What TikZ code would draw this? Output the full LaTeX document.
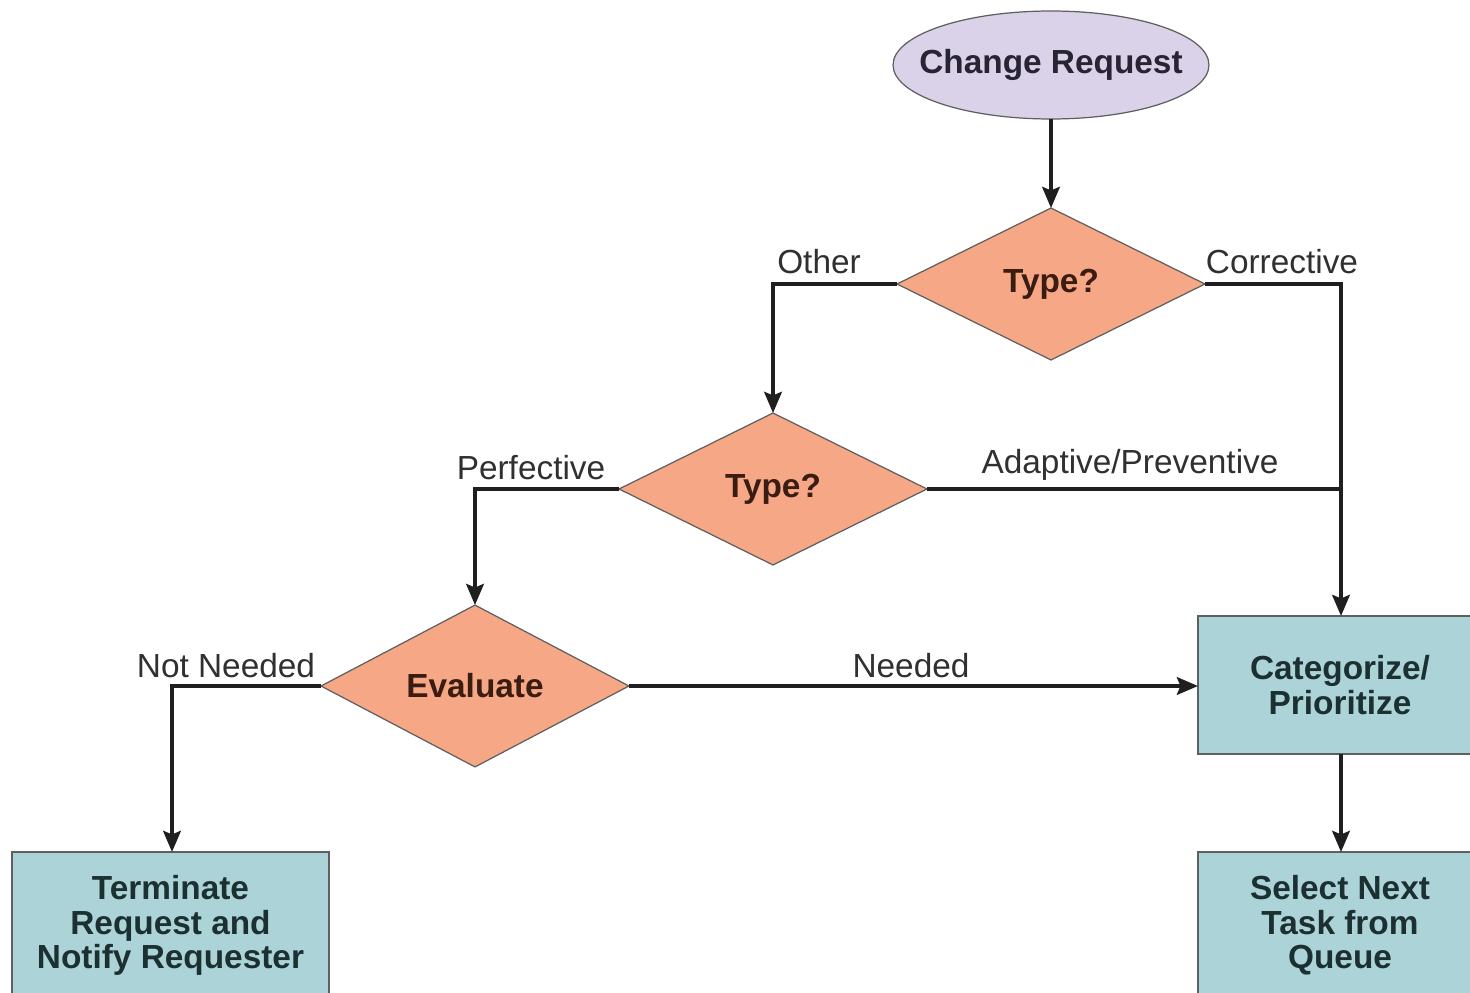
\documentclass[tikz,border=0pt]{standalone}
\usepackage{fontspec}
\setmainfont{Liberation Sans}
\usetikzlibrary{shapes.geometric,arrows.meta}
\definecolor{lav}{RGB}{218,210,232}
\definecolor{salmon}{RGB}{246,168,134}
\definecolor{teal}{RGB}{172,212,216}
\definecolor{edge}{RGB}{95,95,95}
\definecolor{boxtext}{RGB}{28,48,50}
\definecolor{dtext}{RGB}{58,28,18}
\definecolor{etext}{RGB}{40,36,52}
\definecolor{ltext}{RGB}{48,48,48}
\tikzset{
  base/.style={draw=edge, line width=0.7pt, inner sep=0pt, outer sep=0pt, align=center,
    font=\fontsize{19}{19.5}\selectfont\bfseries},
  start/.style={base, ellipse, fill=lav, text=etext, minimum width=6.32cm, minimum height=2.16cm},
  decide/.style={base, diamond, fill=salmon, text=dtext, minimum width=6.16cm, minimum height=3.04cm},
  task/.style={base, rectangle, fill=teal, text=boxtext, minimum height=2.76cm},
  flow/.style={line width=2.2pt, draw=black!88, -{Stealth[length=12pt,width=10pt,inset=2pt]}},
  link/.style={line width=2.2pt, draw=black!88},
  lbl/.style={font=\fontsize{19}{20}\selectfont, text=ltext, inner sep=0pt}
}
\begin{document}
\begin{tikzpicture}[x=0.02cm,y=-0.02cm]
\useasboundingbox (0,0) rectangle (1470,993);
\clip (0,0) rectangle (1470,993);

% nodes (the ellipse text is boxed to zero width so the outline keeps its set size)
\node[start]  (cr)  at (1051,65)  {\makebox[0pt][c]{Change Request}};
\node[decide] (d1)  at (1051,284) {Type?};
\node[decide] (d2)  at (773,489)  {Type?};
\node[decide] (ev)  at (475,686)  {Evaluate};
\node[task, minimum width=5.68cm] (cat) at (1340,685) {Categorize/\\Prioritize};
% the lower boxes run past the bottom edge of the page
\node[task, minimum width=5.68cm, minimum height=3.0cm] (sel) at (1340,927) {Select Next\\Task from\\Queue\\[-0.49cm]};
\node[task, minimum width=6.34cm, minimum height=3.0cm] (term) at (170.5,927) {Terminate\\Request and\\Notify Requester\\[-0.49cm]};
\coordinate (j) at (1341,489);

% connectors
\draw[flow] (cr) -- (d1);
\draw[flow] (d1.west) -| (d2.north);
\draw[flow] (d1.east) -| (j) -- (cat.north -| j);
\draw[link] (d2.east) -- (j);
\draw[flow] (d2.west) -| (ev.north);
\draw[flow] (ev.east) -- (cat.west |- ev.east);
\draw[flow] (ev.west) -| (term.north -| 172,0);
\draw[flow] (cat.south -| j) -- (sel.north -| j);

% branch labels
\node[lbl] (lo)  at (819,262)  {Other};
\node[lbl] (lc)  at (1282,262) {Corrective};
\node[lbl] (lp)  at (531,468)  {Perfective};
\node[lbl] (la)  at (1130,465) {Adaptive/Preventive};
\node[lbl] (ln)  at (911,666)  {Needed};
\node[lbl] (lnn) at (226,666)  {Not Needed};
\end{tikzpicture}
\end{document}
